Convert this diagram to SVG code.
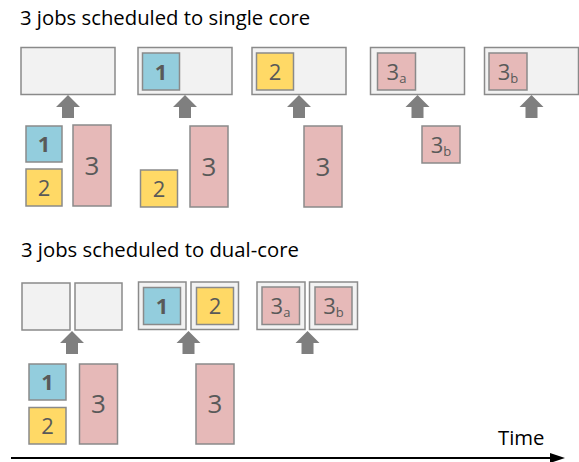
<svg xmlns="http://www.w3.org/2000/svg" width="579" height="462" viewBox="0 0 579 462">
  <style>
    .title { font-family: "Open Sans", "Liberation Sans", sans-serif; font-size: 20.3px; fill: #000; }
    .core { fill: #f2f2f2; stroke: #8a8a8a; stroke-width: 1.5; }
    .job { stroke: #8a8a8a; stroke-width: 1.5; }
    .j1 { fill: #93cddd; }
    .j2 { fill: #ffd966; }
    .j3 { fill: #e6b9b8; }
    .lbl { font-family: "Open Sans", "Liberation Sans", sans-serif; font-size: 22px; fill: #595959; text-anchor: middle; }
    .b { font-weight: bold; }
    .big { font-size: 26px; }
    .sub { font-size: 13px; }
    .feed { fill: #7f7f7f; }
  </style>
  <defs>
    <!-- block arrow pointing up, tip at (0,0) -->
    <path id="up" d="M0,0 L12,12 L6,12 L6,23 L-6,23 L-6,12 L-12,12 Z"/>
    <marker id="head" markerWidth="15" markerHeight="10" refX="0" refY="5" orient="auto" markerUnits="userSpaceOnUse">
      <path d="M0,0 L15,5 L0,10 Z" fill="#000"/>
    </marker>
  </defs>

  <!-- single core -->
  <text class="title" x="20" y="25">3 jobs scheduled to single core</text>

  <g id="single-t0">
    <rect class="core" x="21" y="47.5" width="94" height="47"/>
    <rect class="job j1" x="26" y="126" width="36" height="36"/>
    <text class="lbl b" x="44" y="152">1</text>
    <rect class="job j2" x="26" y="169" width="36" height="37"/>
    <text class="lbl" x="44" y="195.5">2</text>
    <rect class="job j3" x="73" y="125" width="38" height="81"/>
    <text class="lbl big" x="92" y="174.5">3</text>
  </g>

  <g id="single-t1">
    <rect class="core" x="138" y="47.5" width="94" height="47"/>
    <rect class="job j1" x="142.5" y="53" width="37" height="37"/>
    <text class="lbl b" x="161" y="79.5">1</text>
    <rect class="job j2" x="140.5" y="170" width="37" height="37"/>
    <text class="lbl" x="159" y="196.5">2</text>
    <rect class="job j3" x="190" y="126" width="38" height="81"/>
    <text class="lbl big" x="209" y="175.5">3</text>
  </g>

  <g id="single-t2">
    <rect class="core" x="252" y="47.5" width="94" height="47"/>
    <rect class="job j2" x="256.5" y="53" width="37" height="37"/>
    <text class="lbl" x="275" y="79.5">2</text>
    <rect class="job j3" x="304" y="126" width="38" height="81"/>
    <text class="lbl big" x="323" y="175.5">3</text>
  </g>

  <g id="single-t3">
    <rect class="core" x="370.5" y="47.5" width="94" height="47"/>
    <rect class="job j3" x="377.5" y="53" width="38" height="37"/>
    <text class="lbl" x="396.5" y="79.5">3<tspan class="sub" dy="3">a</tspan></text>
    <rect class="job j3" x="422" y="126" width="38" height="37"/>
    <text class="lbl" x="441" y="152.5">3<tspan class="sub" dy="3">b</tspan></text>
  </g>

  <g id="single-t4">
    <rect class="core" x="484.5" y="47.5" width="94" height="47"/>
    <rect class="job j3" x="489" y="53" width="38" height="37"/>
    <text class="lbl" x="508" y="79.5">3<tspan class="sub" dy="3">b</tspan></text>
  </g>

  <!-- dual core -->
  <text class="title" x="21" y="257">3 jobs scheduled to dual-core</text>

  <g id="dual-t0">
    <rect class="core" x="22" y="283" width="48" height="47"/>
    <rect class="core" x="75" y="283" width="47" height="47"/>
    <rect class="job j1" x="29" y="364" width="37" height="36"/>
    <text class="lbl b" x="47.5" y="390">1</text>
    <rect class="job j2" x="29" y="407.5" width="37" height="36.5"/>
    <text class="lbl" x="47.5" y="433.5">2</text>
    <rect class="job j3" x="79.5" y="364" width="38" height="80"/>
    <text class="lbl big" x="98.5" y="413">3</text>
  </g>

  <g id="dual-t1">
    <rect class="core" x="138.5" y="282" width="47.5" height="47.5"/>
    <rect class="core" x="191" y="282" width="47.5" height="47.5"/>
    <rect class="job j1" x="143.5" y="287.5" width="37" height="37"/>
    <text class="lbl b" x="162" y="314">1</text>
    <rect class="job j2" x="196.5" y="287.5" width="37" height="37"/>
    <text class="lbl" x="215" y="314">2</text>
    <rect class="job j3" x="196" y="364" width="38" height="80"/>
    <text class="lbl big" x="215" y="413">3</text>
  </g>

  <g id="dual-t2">
    <rect class="core" x="257" y="282" width="48" height="47.5"/>
    <rect class="core" x="309.5" y="282" width="48" height="47.5"/>
    <rect class="job j3" x="262" y="287" width="37.5" height="37.5"/>
    <text class="lbl" x="280.5" y="313.5">3<tspan class="sub" dy="3">a</tspan></text>
    <rect class="job j3" x="315" y="287" width="37" height="37.5"/>
    <text class="lbl" x="333.5" y="313.5">3<tspan class="sub" dy="3">b</tspan></text>
  </g>

  <!-- connectors: feed arrows and time axis -->
  <g id="connectors">
    <use href="#up" class="feed" x="68" y="95"/>
    <use href="#up" class="feed" x="185" y="95"/>
    <use href="#up" class="feed" x="299" y="95"/>
    <use href="#up" class="feed" x="417.5" y="95"/>
    <use href="#up" class="feed" x="531.5" y="95"/>
    <use href="#up" class="feed" x="72" y="331"/>
    <use href="#up" class="feed" x="188.5" y="331"/>
    <use href="#up" class="feed" x="307.5" y="331"/>
    <line x1="11" y1="458" x2="550" y2="458" stroke="#000" stroke-width="2" marker-end="url(#head)"/>
  </g>
  <text class="title" x="498" y="445">Time</text>
</svg>
